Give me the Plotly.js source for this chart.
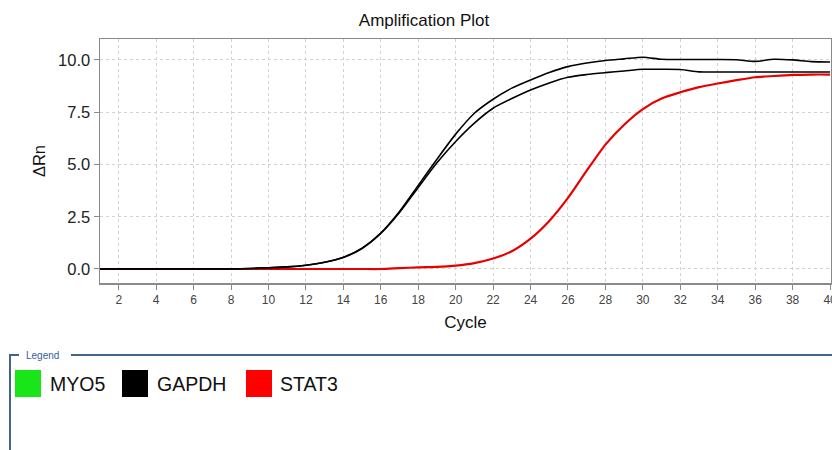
<!DOCTYPE html>
<html>
<head>
<meta charset="utf-8">
<script src="https://cdn.plot.ly/plotly-3.0.1.min.js"></script>
<style>html,body{margin:0;padding:0;background:#fff;}#chart{width:832px;height:450px;}</style>
</head>
<body>
<div id="chart"></div>
<script>
// ---- data ----
const cycles = [1,2,3,4,5,6,7,8,9,10,11,12,13,14,15,16,17,18,19,20,21,22,23,24,25,26,27,28,29,30,31,32,33,34,35,36,37,38,39,40];
const gapdhRep1 = [0,0,0,0,0,0,0,0,0.02,0.06,0.10,0.18,0.32,0.56,1.00,1.72,2.75,4.00,5.25,6.45,7.45,8.12,8.65,9.04,9.40,9.68,9.85,9.97,10.05,10.13,10.03,10.02,10.02,10.02,10.01,9.93,10.03,10.00,9.92,9.90];
const gapdhRep2 = [0,0,0,0,0,0,0,0,0.02,0.06,0.10,0.18,0.32,0.55,0.98,1.70,2.70,3.90,5.08,6.10,6.98,7.69,8.15,8.56,8.90,9.17,9.30,9.39,9.47,9.55,9.55,9.54,9.43,9.42,9.42,9.42,9.42,9.42,9.42,9.42];
const stat3 = [0,0,0,0,0,0,0,0,0,0,0,0,0,0,0,0,0.04,0.08,0.10,0.16,0.28,0.50,0.85,1.45,2.30,3.40,4.70,5.95,6.90,7.65,8.15,8.45,8.70,8.87,9.03,9.17,9.23,9.28,9.30,9.30];
const myo5 = [];
const seriesNames = ['MYO5','GAPDH','STAT3'];
const seriesColors = ['#19e619','#000000','#ff0000'];
const xTicks = [2,4,6,8,10,12,14,16,18,20,22,24,26,28,30,32,34,36,38,40];
const yTicks = [0,2.5,5,7.5,10];
const yTickText = ['0.0','2.5','5.0','7.5','10.0'];

// ---- layout helpers (pixel -> paper) ----
const PL = 100, PR = 831, PT = 39, PB = 283;
const px = p => (p - PL) / (PR - PL);
const py = p => (PB - p) / (PB - PT);

const traces = [
  {x: [], y: myo5, name: seriesNames[0], mode:'lines', line:{color:seriesColors[0], width:2}, showlegend:false},
  {x: cycles, y: stat3, name: seriesNames[2], mode:'lines', line:{color:'#e80000', width:2.2, shape:'spline', smoothing:0.7}, showlegend:false},
  {x: cycles, y: gapdhRep1, name: seriesNames[1], mode:'lines', line:{color:seriesColors[1], width:1.6, shape:'spline', smoothing:0.7}, showlegend:false},
  {x: cycles, y: gapdhRep2, name: seriesNames[1], mode:'lines', line:{color:seriesColors[1], width:1.6, shape:'spline', smoothing:0.7}, showlegend:false}
];

const frameColor = '#3f6688';
const shapes = [
  {type:'line', xref:'paper', yref:'paper', x0:px(10), x1:px(19), y0:py(355), y1:py(355), line:{color:frameColor, width:2}},
  {type:'line', xref:'paper', yref:'paper', x0:px(71), x1:px(834), y0:py(355), y1:py(355), line:{color:frameColor, width:2}},
  {type:'line', xref:'paper', yref:'paper', x0:px(10), x1:px(10), y0:py(354), y1:py(452), line:{color:frameColor, width:2}}
];
const annotations = [
  {xref:'paper', yref:'paper', x:px(24), y:py(355), xanchor:'left', yanchor:'middle', showarrow:false, text:'Legend', font:{size:10, color:'#35609a'}}
];
const swatchLeft = [15, 122, 246];
const labelLeft = [48, 155, 278];
seriesNames.forEach((n, i) => {
  shapes.push({type:'rect', xref:'paper', yref:'paper', x0:px(swatchLeft[i]), x1:px(swatchLeft[i]+26), y0:py(397), y1:py(370), fillcolor:seriesColors[i], line:{width:0}});
  annotations.push({xref:'paper', yref:'paper', x:px(labelLeft[i]), y:py(384), xanchor:'left', yanchor:'middle', showarrow:false, text:n, font:{size:19.5, color:'#111'}});
});

const layout = {
  width: 832, height: 450,
  margin: {l: PL, r: 832 - PR, t: PT, b: 450 - PB, pad: 0},
  paper_bgcolor: '#ffffff', plot_bgcolor: '#ffffff',
  font: {family: '"Liberation Sans", Arial, sans-serif', color: '#222'},
  title: {text: 'Amplification Plot', font: {size: 17, color: '#111'}, xref: 'container', x: 424/832, xanchor: 'center', yref: 'container', y: 1 - 20/450, yanchor: 'middle'},
  showlegend: false,
  xaxis: {
    range: [1, 40.05], tickvals: xTicks, ticks: 'outside', ticklen: 5, tickcolor: '#8a8a8a',
    ticklabeloverflow: 'allow',
    showline: true, linecolor: '#8a8a8a', linewidth: 1.5, mirror: true,
    showgrid: true, gridcolor: '#d2d2d2', griddash: '3px,3px', gridwidth: 1, zeroline: false,
    tickfont: {size: 12, color: '#444'},
    title: {text: 'Cycle', font: {size: 17, color: '#111'}, standoff: 10},
    automargin: false
  },
  yaxis: {
    range: [-0.67, 11.0], tickvals: yTicks, ticktext: yTickText, ticks: 'outside', ticklen: 5, tickcolor: '#8a8a8a',
    showline: true, linecolor: '#8a8a8a', linewidth: 1.5, mirror: true,
    showgrid: true, gridcolor: '#d2d2d2', griddash: '3px,3px', gridwidth: 1, zeroline: false,
    tickfont: {size: 16.5, color: '#222'},
    title: {text: 'ΔRn', font: {size: 16.5, color: '#111'}, standoff: 8},
    automargin: false
  },
  shapes: shapes,
  annotations: annotations
};

Plotly.newPlot('chart', traces, layout, {displayModeBar: false, staticPlot: true});
</script>
</body>
</html>
